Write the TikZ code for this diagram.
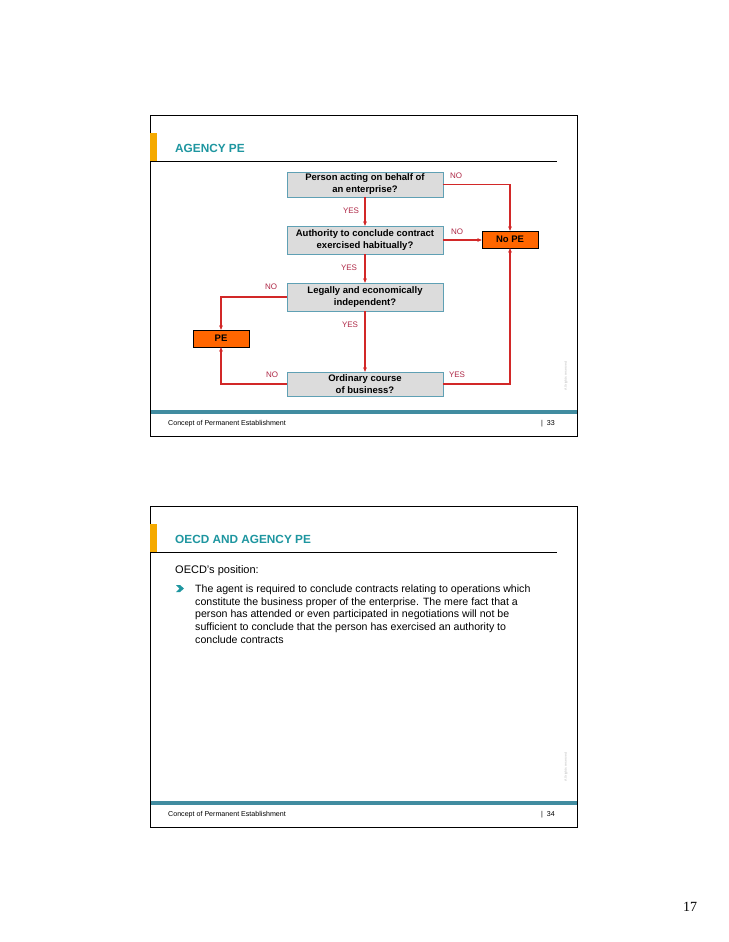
\documentclass[tikz,border=0pt]{standalone}
\usepackage{fontspec}
\setmainfont{Liberation Sans}
\newfontfamily\pagefont{Liberation Serif}
\usetikzlibrary{arrows.meta}

\definecolor{mred}{RGB}{210, 40, 40}
\definecolor{mlab}{RGB}{175, 40, 70}
\definecolor{mtea}{RGB}{30, 150, 160}
\definecolor{mbar}{RGB}{65, 140, 160}
\definecolor{mora}{RGB}{255, 102, 0}
\definecolor{mgol}{RGB}{245, 170, 0}
\definecolor{mgry}{RGB}{220, 220, 220}
\definecolor{medg}{RGB}{95, 160, 180}

\tikzset{
	question/.style={draw=medg, fill=mgry, minimum width=156pt, minimum height=25pt, align=center, inner sep=1pt, font=\fontsize{9.5}{12}\selectfont\bfseries},
	verdict/.style={draw=black, fill=mora, minimum width=56pt, minimum height=17pt, inner sep=0pt, font=\fontsize{9.5}{11}\selectfont\bfseries},
	answer/.style={text=mlab, inner sep=0pt, font=\fontsize{8}{9}\selectfont},
	flow/.style={mred, line width=1.05pt, -{Stealth[length=4.5pt,width=3.8pt]}},
}

\begin{document}
\begin{tikzpicture}[x=1pt, y=-1pt]

	\fill[white] (0,0) rectangle (728,942);
	\useasboundingbox (0,0) rectangle (728,942);

	% --- Slide frames, titles and footers ---
	\foreach \dy/\num/\heading in {0/33/AGENCY PE, 391/34/OECD AND AGENCY PE} {
			\begin{scope}[shift={(0,\dy)}]
				\draw[line width=0.9pt] (150,115) rectangle (577,436);
				\fill[mgol] (150,133) rectangle (157,161);
				\draw[line width=0.6pt] (150,161) -- (557,161);
				\node[anchor=west, inner sep=0pt, text=mtea, font=\fontsize{11.8}{14}\selectfont\bfseries] (title\num) at (175,148) {\heading};
				\draw[mbar, line width=3.5pt] (150.5,412) -- (576.5,412);
				\node[anchor=west, inner sep=0pt, font=\fontsize{7.1}{8}\selectfont] (foot\num) at (168,424) {Concept of Permanent Establishment};
				\node[anchor=west, inner sep=0pt, font=\fontsize{7.1}{8}\selectfont] (page\num) at (541,424) {|\ \ \num};
				\node[rotate=90, inner sep=0pt, text=black!25, font=\fontsize{3.5}{4}\selectfont] (rights\num) at (566,376) {All rights reserved};
			\end{scope}
		}

	% --- Upper slide: decision chart ---
	\node[question] (person) at (365,184.5) {Person acting on behalf of\\an enterprise?};
	\node[question, minimum height=28pt] (authority) at (365,240) {Authority to conclude contract\\exercised habitually?};
	\node[question, minimum height=28pt] (independent) at (365,297) {Legally and economically\\independent?};
	\node[question, minimum height=24pt] (ordinary) at (365,384) {Ordinary course\\of business?};

	\node[verdict] (nope) at (510,239.5) {No PE};
	\node[verdict] (pe) at (221,338.5) {PE};

	\draw[flow] (person) -- (authority);
	\draw[flow] (authority) -- (independent);
	\draw[flow] (independent) -- (ordinary);
	\draw[flow] (person.east) -| (nope.north);
	\draw[flow] (authority.east) -- (authority.east -| nope.west);
	\draw[flow] (independent.west) -| (pe.north);
	\draw[flow] (ordinary.west) -| (pe.south);
	\draw[flow] (ordinary.east) -| (nope.south);

	\node[answer] (no1) at (456,176) {NO};
	\node[answer] (yes1) at (351,211) {YES};
	\node[answer] (no2) at (457,232) {NO};
	\node[answer] (yes2) at (349,268) {YES};
	\node[answer] (no3) at (271,286.5) {NO};
	\node[answer] (yes3) at (350,325) {YES};
	\node[answer] (no4) at (272,375) {NO};
	\node[answer] (yes4) at (457,375) {YES};

	% --- Lower slide: text ---
	\node[anchor=west, inner sep=0pt, font=\fontsize{11}{13}\selectfont] (position) at (175,570.5) {OECD’s position:};
	\fill[mtea] (176,585) -- (180,585) -- (184,588.5) -- (180,592) -- (176,592) -- (179.5,588.5) -- cycle;
	\node[anchor=north west, inner sep=0pt, align=left, font=\fontsize{10.6}{12.7}\selectfont] (agent) at (195,584.5) {The agent is required to conclude contracts relating to operations which\\constitute the business proper of the enterprise. The mere fact that a\\person has attended or even participated in negotiations will not be\\sufficient to conclude that the person has exercised an authority to\\conclude contracts};

	% --- Sheet number ---
	\node[inner sep=0pt, font=\pagefont\fontsize{14}{16}\selectfont] (sheet) at (690,907) {17};

\end{tikzpicture}
\end{document}
